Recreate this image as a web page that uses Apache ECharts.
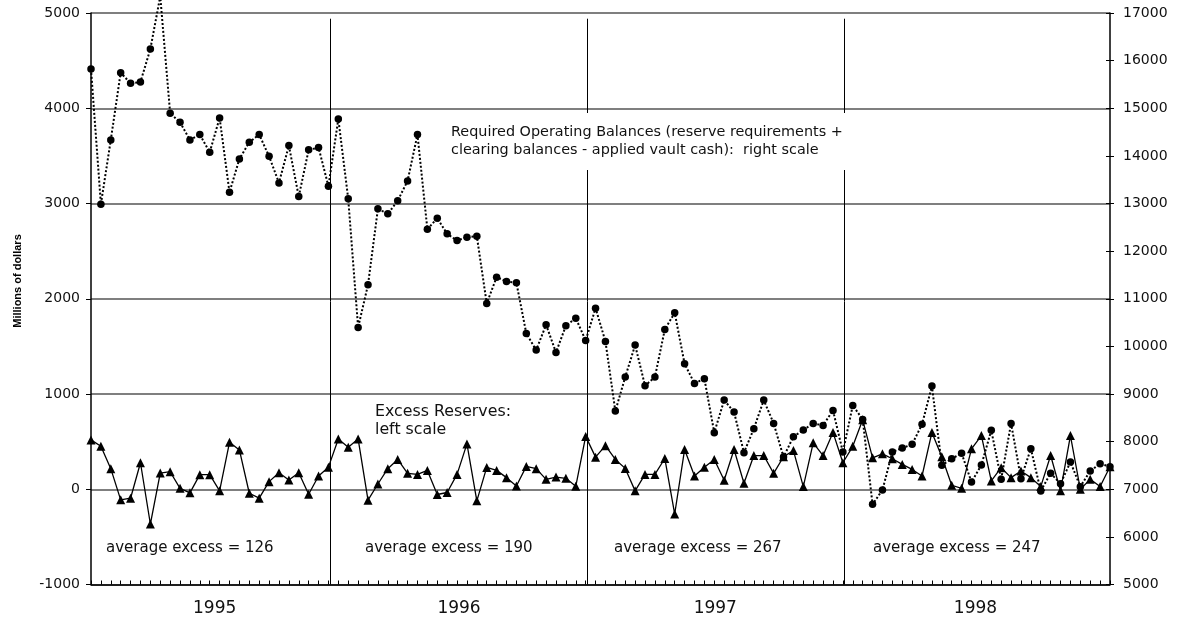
<!DOCTYPE html>
<html>
<head>
<meta charset="utf-8">
<title>Required Operating Balances and Excess Reserves</title>
<script src="https://cdn.jsdelivr.net/npm/echarts@6/dist/echarts.min.js"></script>
<style>
  html, body { margin: 0; padding: 0; background: #fff; }
  #chart { width: 1186px; height: 622px; }
</style>
</head>
<body>
<div id="chart"></div>
<script>
// Required operating balances by maintenance period, millions of dollars (right scale)
const operatingBalances = [
  15825, 12985, 14335, 15748, 15523, 15552, 16245, 17350, 14894, 14705,
  14335, 14447, 14075, 14797, 13236, 13937, 14285, 14447, 13991, 13433,
  14216, 13146, 14126, 14174, 13362, 14776, 13098, 10398, 11293, 12888,
  12783, 13056, 13475, 14447, 12460, 12691, 12363, 12223, 12292, 12313,
  10901, 11453, 11363, 11335, 10272, 9922, 10454, 9873, 10433, 10593,
  10125, 10802, 10104, 8642, 9355, 10027, 9174, 9355, 10355, 10706,
  9634, 9222, 9322, 8188, 8872, 8621, 7769, 8272, 8872, 8383,
  7677, 8104, 8243, 8383, 8341, 8656, 7781, 8761, 8467, 6684,
  6984, 7781, 7865, 7943, 8363, 9166, 7502, 7643, 7754, 7152,
  7509, 8237, 7209, 8383, 7223, 7853, 6963, 7335, 7118, 7572,
  7055, 7383, 7538, 7475
];

// Excess reserves by maintenance period, millions of dollars (left scale)
const excessReserves = [
  518, 451, 216, -111, -94, 278, -365, 170, 184, 10,
  -38, 153, 153, -17, 493, 413, -42, -94, 80, 174,
  97, 174, -52, 139, 232, 528, 441, 528, -115, 55,
  216, 313, 167, 156, 198, -55, -34, 156, 476, -122,
  229, 198, 122, 34, 240, 216, 104, 128, 115, 31,
  555, 337, 458, 313, 219, -17, 156, 156, 323, -260,
  417, 139, 232, 313, 94, 417, 63, 354, 354, 167,
  341, 406, 28, 487, 354, 597, 278, 451, 729, 330,
  372, 320, 261, 208, 139, 597, 341, 42, 10, 424,
  563, 87, 226, 122, 191, 122, 28, 354, -17, 563,
  0, 104, 28, 236
];

// Year labels, the period index each label sits on, and where each year ends
const yearLabels = ['1995', '1996', '1997', '1998'];
const yearLabelAt = [12.5, 37.2, 63.1, 89.4];
const yearBreaks = [24.2, 50.15, 76.15];
const averageExcess = [126, 190, 267, 247];

const leftTicks = { min: -1000, max: 5000, interval: 1000 };
const rightTicks = { min: 5000, max: 17000, interval: 1000 };

const periodIndex = excessReserves.map((_, i) => i);
const excessData = excessReserves.map((v, i) => [i, v]);
const balanceData = operatingBalances.map((v, i) => [i, v]);

const FONT = 'DejaVu Sans';
const plain = v => String(v);
const gridRect = { left: 91, right: 76, top: 13, bottom: 37.5, containLabel: false };

const chart = echarts.init(document.getElementById('chart'), null, { renderer: 'canvas' });

chart.setOption({
  backgroundColor: '#ffffff',
  animation: false,
  grid: [Object.assign({}, gridRect), Object.assign({}, gridRect)],
  xAxis: [
    {
      type: 'value',
      gridIndex: 0,
      min: 0,
      max: excessReserves.length - 1,
      axisLine: { show: true, onZero: false, lineStyle: { color: '#000', width: 1.5 } },
      axisTick: {
        show: true, inside: true, length: 4,
        customValues: periodIndex,
        lineStyle: { color: '#000', width: 1 }
      },
      axisLabel: {
        show: true,
        customValues: yearLabelAt,
        margin: 16,
        color: '#111',
        fontFamily: FONT,
        fontSize: 17,
        formatter: v => yearLabels[yearLabelAt.indexOf(v)] || ''
      },
      splitLine: { show: false }
    },
    {
      // companion axis for the inner half of the right-hand ticks
      type: 'value',
      gridIndex: 1,
      min: 0,
      max: excessReserves.length - 1,
      show: false
    }
  ],
  yAxis: [
    {
      type: 'value',
      gridIndex: 0,
      position: 'left',
      min: leftTicks.min, max: leftTicks.max, interval: leftTicks.interval,
      axisLine: { show: true, onZero: false, lineStyle: { color: '#000', width: 1.5 } },
      axisTick: { show: true, inside: false, length: 5, lineStyle: { color: '#000' } },
      axisLabel: { margin: 11, color: '#111', fontFamily: FONT, fontSize: 14, formatter: plain },
      splitLine: { show: true, lineStyle: { color: '#555', width: 1.5 } }
    },
    {
      type: 'value',
      gridIndex: 0,
      position: 'right',
      min: rightTicks.min, max: rightTicks.max, interval: rightTicks.interval,
      axisLine: { show: true, onZero: false, lineStyle: { color: '#000', width: 1.5 } },
      axisTick: { show: true, inside: false, length: 4, lineStyle: { color: '#000' } },
      axisLabel: { margin: 13, color: '#111', fontFamily: FONT, fontSize: 14, formatter: plain },
      splitLine: { show: false }
    },
    {
      type: 'value',
      gridIndex: 1,
      position: 'right',
      min: rightTicks.min, max: rightTicks.max, interval: rightTicks.interval,
      axisLine: { show: false, onZero: false },
      axisTick: { show: true, inside: true, length: 4, lineStyle: { color: '#000' } },
      axisLabel: { show: false },
      splitLine: { show: false }
    }
  ],
  series: [
    {
      name: 'Excess Reserves',
      type: 'line',
      xAxisIndex: 0,
      yAxisIndex: 0,
      data: excessData,
      symbol: 'triangle',
      symbolSize: 9,
      itemStyle: { color: '#000' },
      lineStyle: { color: '#000', width: 1.3 },
      z: 3,
      markLine: {
        silent: true,
        symbol: 'none',
        label: { show: false },
        lineStyle: { color: '#000', width: 1, type: 'solid' },
        data: yearBreaks.map(x => [
          { coord: [x, 4940] },
          { coord: [x, leftTicks.min] }
        ])
      }
    },
    {
      name: 'Required Operating Balances',
      type: 'line',
      xAxisIndex: 0,
      yAxisIndex: 1,
      data: balanceData,
      clip: false,
      symbol: 'circle',
      symbolSize: 7.5,
      itemStyle: { color: '#000' },
      lineStyle: { color: '#000', width: 2, type: 'dotted' },
      z: 4
    }
  ],
  graphic: [
    {
      type: 'text',
      x: 18,
      y: 281,
      rotation: Math.PI / 2,
      z: 100,
      style: {
        text: 'Millions of dollars',
        fontFamily: 'Liberation Sans',
        fontWeight: 'bold',
        fontSize: 11,
        fill: '#000',
        align: 'center',
        verticalAlign: 'middle'
      }
    },
    {
      type: 'text',
      left: 445,
      top: 113,
      z: 100,
      style: {
        text: 'Required Operating Balances (reserve requirements +\nclearing balances - applied vault cash):  right scale',
        fontFamily: FONT,
        fontSize: 14.4,
        lineHeight: 18,
        fill: '#111',
        backgroundColor: '#fff',
        padding: [10, 6, 11, 6]
      }
    },
    {
      type: 'text',
      left: 375,
      top: 403,
      z: 100,
      style: {
        text: 'Excess Reserves:\nleft scale',
        fontFamily: FONT,
        fontSize: 15.8,
        lineHeight: 18,
        fill: '#111'
      }
    },
    ...[106, 365, 614, 873].map((x, k) => ({
      type: 'text',
      left: x,
      top: 541,
      z: 100,
      style: {
        text: 'average excess = ' + averageExcess[k],
        fontFamily: FONT,
        fontSize: 15,
        fill: '#111'
      }
    }))
  ]
});
</script>
</body>
</html>
